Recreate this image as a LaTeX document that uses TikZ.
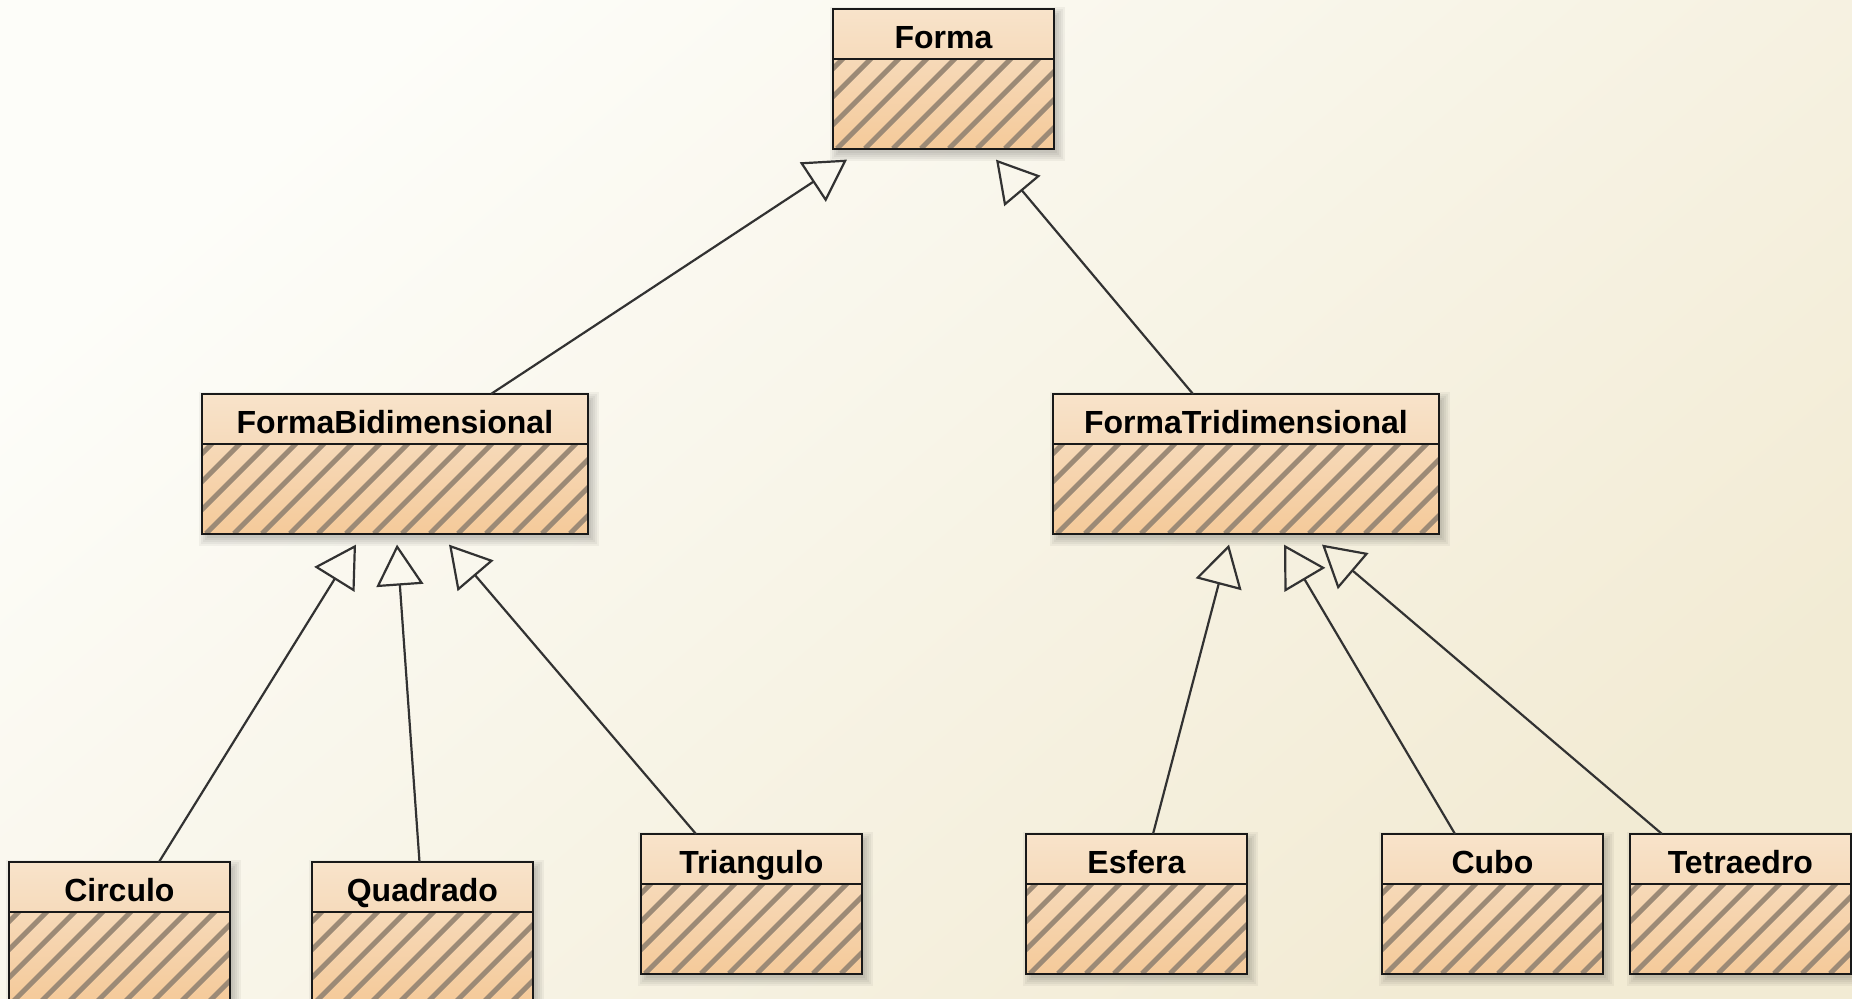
\documentclass[tikz,border=0pt]{standalone}
\usepackage{fontspec}
\setmainfont{Liberation Sans}
\usetikzlibrary{arrows.meta,calc}

\definecolor{paperA}{RGB}{253,253,249}
\definecolor{paperD}{RGB}{242,235,212}
\definecolor{headTop}{RGB}{248,227,202}
\definecolor{headBot}{RGB}{246,219,188}
\definecolor{bodyTop}{RGB}{246,217,184}
\definecolor{bodyBot}{RGB}{245,202,154}
\definecolor{hatchCol}{RGB}{156,138,118}
\definecolor{edgeCol}{RGB}{25,25,25}
\definecolor{linkCol}{RGB}{50,50,50}

\pgfdeclarelayer{bg}
\pgfdeclarelayer{shadowlayer}
\pgfsetlayers{bg,shadowlayer,main}

\tikzset{
  clshead/.style={rectangle, inner sep=0pt, minimum height=24.5pt,
    top color=headTop, bottom color=headBot,
    font=\fontsize{16pt}{18pt}\selectfont\bfseries,
    text height=16pt, text depth=1pt},
  clsbody/.style={rectangle, inner sep=0pt, minimum height=44.5pt,
    top color=bodyTop, bottom color=bodyBot},
  clsline/.style={draw=edgeCol, line width=1pt},
  hatchline/.style={draw=hatchCol, line width=2.5pt},
  softshade/.style={fill=black, fill opacity=0.045},
  gen/.style={draw=linkCol, line width=1.1pt,
    -{Triangle[open, length=20.5pt, width=23.5pt]}},
}

% a class box: header with the name, hatched body below it
% #1 name, #2 left (px), #3 top (px), #4 width, #5 label
\newcommand{\umlclass}[5]{%
  \node[clshead, minimum width=#4, anchor=north west] (#1) at (#2,#3) {#5};
  \node[clsbody, minimum width=#4, anchor=north] (#1-b) at (#1.south) {};
  \begin{scope}
    \clip (#1-b.south west) rectangle (#1-b.north east);
    \foreach \s in {-108,-80,...,420}
      \draw[hatchline] ($(#1-b.south west)+(\s,0)$) -- ++(120,-120);
  \end{scope}
  \draw[clsline] (#1.north west) rectangle (#1-b.south east);
  \draw[clsline] (#1.south west) -- (#1.south east);
  % soft drop shadow, built from stacked translucent rectangles
  \begin{pgfonlayer}{shadowlayer}
    \foreach \g in {-1,1,3,5,7}
      \path[softshade] ($(#1.north west)+(4-\g,5-\g)$) rectangle ($(#1-b.south east)+(4+\g,5+\g)$);
  \end{pgfonlayer}
}

\begin{document}
\begin{tikzpicture}[x=0.5pt, y=-0.5pt]
\useasboundingbox (0,0) rectangle (1852,999);
\begin{pgfonlayer}{bg}
  \shade[shading=axis, top color=paperA, bottom color=paperD, shading angle=40]
    (0,0) rectangle (1852,999);
\end{pgfonlayer}

% class boxes
\umlclass{forma}{833}{9}{110pt}{Forma}
\umlclass{bid}{202}{394}{192.5pt}{FormaBidimensional}
\umlclass{tri}{1053}{394}{192.5pt}{FormaTridimensional}
\umlclass{circ}{9}{862}{110pt}{Circulo}
\umlclass{quad}{312}{862}{110pt}{Quadrado}
\umlclass{trig}{641}{834}{110pt}{Triangulo}
\umlclass{esf}{1026}{834}{110pt}{Esfera}
\umlclass{cubo}{1382}{834}{110pt}{Cubo}
\umlclass{tetra}{1630}{834}{110pt}{Tetraedro}

% generalisation links
\draw[gen] ($(bid.north west)+(289,0)$) -- ($(forma-b.south west)+(14,11)$);
\draw[gen] ($(tri.north west)+(140,0)$) -- ($(forma-b.south west)+(163,11)$);

\draw[gen] ($(circ.north west)+(150,0)$) -- ($(bid-b.south west)+(154,11)$);
\draw[gen] ($(quad.north west)+(107.5,0)$) -- ($(bid-b.south west)+(195,11)$);
\draw[gen] ($(trig.north west)+(55,0)$) -- ($(bid-b.south west)+(247,11)$);

\draw[gen] ($(esf.north west)+(127,0)$) -- ($(tri-b.south west)+(176,11)$);
\draw[gen] ($(cubo.north west)+(73,0)$) -- ($(tri-b.south west)+(231,11)$);
\draw[gen] ($(tetra.north west)+(32,0)$) -- ($(tri-b.south west)+(269,11)$);
\end{tikzpicture}
\end{document}
